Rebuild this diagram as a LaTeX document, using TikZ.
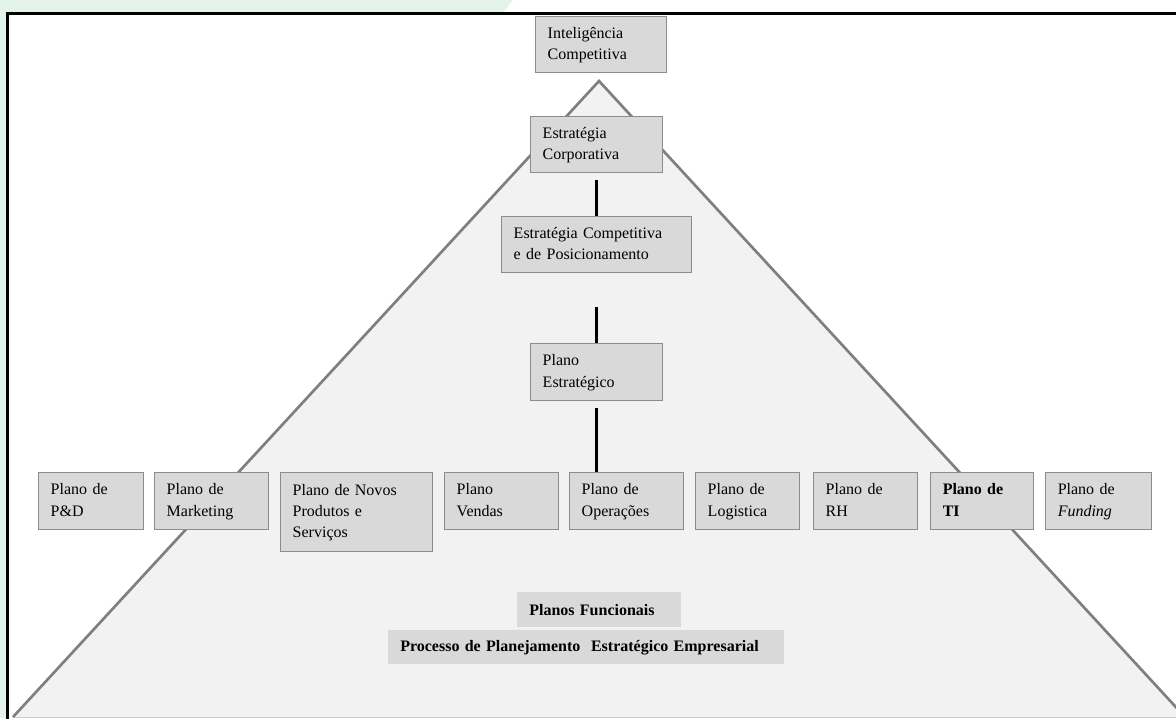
\documentclass[tikz,border=0pt]{standalone}
\usepackage{fontspec}
\setmainfont{Liberation Serif}
\definecolor{bgreen}{HTML}{E3F3EA}
\definecolor{trifill}{HTML}{F2F2F2}
\definecolor{tristroke}{HTML}{7F7F7F}
\definecolor{boxfill}{HTML}{D9D9D9}
\definecolor{boxstroke}{HTML}{8C8C8C}
\begin{document}
\begin{tikzpicture}[x=0.75pt,y=-0.75pt,
  bx/.style={draw=boxstroke, fill=boxfill, line width=1.1pt, anchor=north west,
    align=left, inner xsep=9pt, inner ysep=0pt, font=\fontsize{12}{16}\selectfont,
    execute at begin node=\strut, execute at end node=\strut},
  lbl/.style={fill=boxfill, anchor=north west, align=left, inner xsep=9pt,
    inner ysep=0pt, font=\fontsize{12}{16}\selectfont\bfseries},
  conn/.style={line width=2.5pt, black}]
\useasboundingbox (0,0) rectangle (1176,718);
% background
\fill[white] (0,0) rectangle (1176,718);
\fill[bgreen] (0,0) -- (513,0) -- (503,13) -- (0,13) -- cycle;
\fill[bgreen] (0,0) rectangle (6,718);
\draw[black, line width=2.25pt] (7.5,13.5) rectangle (1200,740);
% pyramid
\fill[trifill] (599,81) -- (13,717) -- (1185,717) -- cycle;
\draw[black!20, line width=0.75pt] (13,717) -- (1185,717);
\draw[tristroke, line width=2pt] (13,717) -- (599,81) -- (1185,717);
% top chain
\node[bx, text width=80.25pt, minimum height=42pt] (ic) at (535,16) {Inteligência\\Competitiva};
\node[bx, text width=81pt, minimum height=42pt] (ec) at (530,116) {Estratégia\\Corporativa};
\node[bx, text width=124.5pt, minimum height=42pt] (ecp) at (501,216) {Estratégia Competitiva\\e de Posicionamento};
\node[bx, text width=81pt, minimum height=42.75pt] (pe) at (530,343) {Plano\\Estratégico};
% functional plans
\node[bx, text width=60.75pt, minimum height=42.75pt] (pd) at (38,472) {Plano de\\P\&D};
\node[bx, text width=67.5pt, minimum height=42.75pt] (mk) at (154,472) {Plano de\\Marketing};
\node[bx, text width=96pt, minimum height=59.25pt] (np) at (280,472) {Plano de Novos\\Produtos e\\Serviços};
\node[bx, text width=67.5pt, minimum height=42.75pt] (pv) at (444,472) {Plano\\Vendas};
\node[bx, text width=67.5pt, minimum height=42.75pt] (po) at (569,472) {Plano de\\Operações};
\node[bx, text width=60pt, minimum height=42.75pt] (pl) at (695,472) {Plano de\\Logistica};
\node[bx, text width=60pt, minimum height=42.75pt] (rh) at (813,472) {Plano de\\RH};
\node[bx, text width=59.25pt, minimum height=42.75pt, font=\fontsize{12}{16}\selectfont\bfseries] (ti) at (930,472) {Plano de\\TI};
\node[bx, text width=61.5pt, minimum height=42.75pt] (fu) at (1045,472) {Plano de\\\textit{Funding}};
% labels
\node[lbl, text width=105pt, minimum height=26.25pt] (pf) at (517,592) {Planos Funcionais};
\node[lbl, text width=279pt, minimum height=25.5pt] (pp) at (388,630) {Processo de Planejamento~ Estratégico Empresarial};
% connectors
\draw[conn, shorten <=5.25pt] (ec.south) -- (ecp.north);
\draw[conn, shorten <=25.5pt] (ecp.south) -- (pe.north);
\draw[conn, shorten <=5.25pt] (pe.south) -- (pe.south |- po.north);
\end{tikzpicture}
\end{document}
